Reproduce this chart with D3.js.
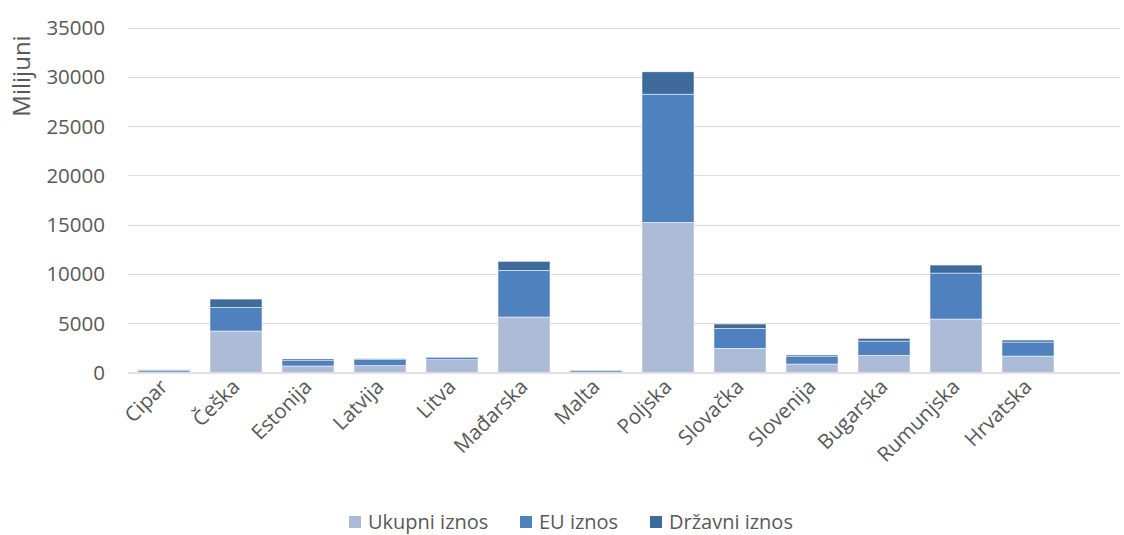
<!DOCTYPE html>
<html>
<head>
<meta charset="utf-8">
<script src="https://cdn.jsdelivr.net/npm/d3@7"></script>
<style>
    body { margin: 0; background: #fff; }
    svg { display: block; font-family: 'Open Sans', sans-serif; }
</style>
</head>
<body>
<svg id="chart" width="1124" height="535"></svg>
<script>
// values (milijuni)
const countries = ['Cipar', 'Češka', 'Estonija', 'Latvija', 'Litva', 'Mađarska', 'Malta',
    'Poljska', 'Slovačka', 'Slovenija', 'Bugarska', 'Rumunjska', 'Hrvatska'];
const ukupni = [60, 4220, 670, 710, 1310, 5640, 60, 15240, 2460, 870, 1750, 5435, 1680];
const euIznos = [190, 2400, 540, 600, 200, 4735, 170, 13010, 2030, 740, 1450, 4665, 1420];
const drzavni = [30, 840, 170, 100, 60, 913, 30, 2260, 440, 170, 270, 810, 200];
const seriesNames = ['Ukupni iznos', 'EU iznos', 'Državni iznos'];
const seriesColors = ['#acbbd8', '#4e81bd', '#3e6a9c'];
const yTicks = [0, 5000, 10000, 15000, 20000, 25000, 30000, 35000];

const svg = d3.select('#chart');
const width = 1124;

const rows = countries.map((c, i) => ({
    country: c,
    'Ukupni iznos': ukupni[i],
    'EU iznos': euIznos[i],
    'Državni iznos': drzavni[i]
}));

// one empty slot at the end, like the original axis
const x = d3.scaleBand()
    .domain(countries.concat(['']))
    .range([128, 1136])
    .paddingInner(0.278)
    .paddingOuter(0.139);

const y = d3.scaleLinear()
    .domain([0, 35000])
    .range([372.6, 27.6]);

const color = d3.scaleOrdinal()
    .domain(seriesNames)
    .range(seriesColors);

// gridlines
svg.append('g')
    .selectAll('line.grid')
    .data(yTicks.filter(d => d > 0))
    .join('line')
    .attr('class', 'grid')
    .attr('x1', 128)
    .attr('x2', width - 4)
    .attr('y1', d => Math.round(y(d)) + 0.5)
    .attr('y2', d => Math.round(y(d)) + 0.5)
    .attr('stroke', '#d9d9d9')
    .attr('stroke-width', 1);

// y tick labels
svg.append('g')
    .selectAll('text.ytick')
    .data(yTicks)
    .join('text')
    .attr('class', 'ytick')
    .attr('x', 105)
    .attr('y', d => y(d))
    .attr('dy', '0.36em')
    .attr('text-anchor', 'end')
    .attr('fill', '#595959')
    .style('font-size', '20.5px')
    .text(d => d);

// y title
svg.append('text')
    .attr('transform', 'translate(30, 76) rotate(-90)')
    .attr('text-anchor', 'middle')
    .attr('fill', '#595959')
    .style('font-size', '24px')
    .text('Milijuni');

// stacked bars
const stack = d3.stack().keys(seriesNames);
const stacked = stack(rows);

svg.append('g')
    .selectAll('g.series')
    .data(stacked)
    .join('g')
    .attr('class', 'series')
    .attr('fill', d => color(d.key))
    .selectAll('rect')
    .data(d => d)
    .join('rect')
    .attr('x', d => x(d.data.country))
    .attr('width', x.bandwidth())
    .attr('y', d => y(d[1]))
    .attr('height', d => y(d[0]) - y(d[1]))
    .attr('stroke', '#fff')
    .attr('stroke-width', 0.5);

// baseline
svg.append('line')
    .attr('x1', 128)
    .attr('x2', width - 4)
    .attr('y1', y(0) + 0.5)
    .attr('y2', y(0) + 0.5)
    .attr('stroke', '#d9d9d9')
    .attr('stroke-width', 1.5);

// x labels, rotated
svg.append('g')
    .selectAll('text.xtick')
    .data(countries)
    .join('text')
    .attr('class', 'xtick')
    .attr('transform', d => `translate(${x(d) + x.bandwidth() / 2 + 5}, 388) rotate(-45)`)
    .attr('text-anchor', 'end')
    .attr('fill', '#595959')
    .style('font-size', '20.5px')
    .text(d => d);

// legend
const legendX = [349, 520, 650];
const legend = svg.append('g')
    .selectAll('g.legend-item')
    .data(seriesNames)
    .join('g')
    .attr('class', 'legend-item')
    .attr('transform', (d, i) => `translate(${legendX[i]}, 516)`);

legend.append('rect')
    .attr('width', 12)
    .attr('height', 12)
    .attr('fill', d => color(d));

legend.append('text')
    .attr('x', 19)
    .attr('y', 6)
    .attr('dy', '0.36em')
    .attr('fill', '#595959')
    .style('font-size', '20px')
    .text(d => d);
</script>
</body>
</html>
